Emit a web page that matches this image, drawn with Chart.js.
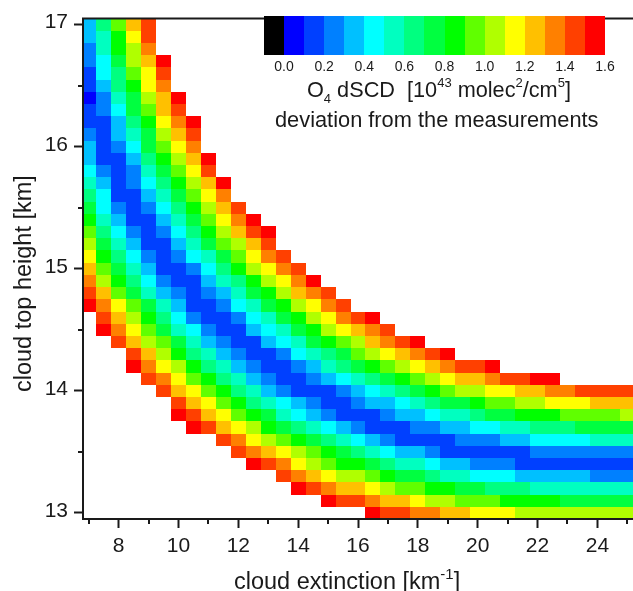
<!DOCTYPE html>
<html>

<head>
    <meta charset="UTF-8">
    <title>O4 dSCD deviation</title>
    <script src="https://cdn.jsdelivr.net/npm/chart.js@4.4.0/dist/chart.umd.min.js"></script>
    <style>
        body { margin: 0; background: #fff; }
        #wrap { position: relative; width: 633px; height: 591px; overflow: hidden; }
        #mapChart { position: absolute; left: 0; top: 0; }
        #barChart { position: absolute; left: 255px; top: 16px; }
    </style>
</head>

<body>
    <div id="wrap">
        <canvas id="mapChart" width="633" height="591"></canvas>
        <canvas id="barChart" width="378" height="60"></canvas>
    </div>

    <script>
        // cloud extinction [km-1], one entry per column
        const extinction = [7, 7.5, 8, 8.5, 9, 9.5, 10, 10.5, 11, 11.5, 12, 12.5, 13, 13.5, 14, 14.5, 15, 15.5, 16,
            16.5, 17, 17.5, 18, 18.5, 19, 19.5, 20, 20.5, 21, 21.5, 22, 22.5, 23, 23.5, 24, 24.5, 25];
        // cloud top height [km], one entry per row, top to bottom
        const heights = [17, 16.9, 16.8, 16.7, 16.6, 16.5, 16.4, 16.3, 16.2, 16.1, 16, 15.9, 15.8, 15.7, 15.6, 15.5,
            15.4, 15.3, 15.2, 15.1, 15, 14.9, 14.8, 14.7, 14.6, 14.5, 14.4, 14.3, 14.2, 14.1, 14, 13.9, 13.8, 13.7,
            13.6, 13.5, 13.4, 13.3, 13.2, 13.1, 13];
        // first filled column of each row (index in extinction)
        const rowStart = [0, 0, 0, 0, 0, 0, 0, 0, 0, 0, 0, 0, 0, 0, 0, 0, 0, 0, 0, 0, 0, 0, 0, 0,
            1, 1, 2, 3, 3, 4, 5, 6, 6, 7, 9, 10, 11, 13, 14, 16, 19];

        const h170 = [.35, .65, .95, 1.25, 1.45];
        const h169 = [.35, .55, .85, 1.15, 1.45];
        const h168 = [.25, .55, .85, 1.05, 1.35];
        const h167 = [.25, .45, .75, 1.05, 1.25, 1.55];
        const h166 = [.15, .45, .65, .95, 1.15, 1.45];
        const h165 = [.15, .35, .65, .85, 1.15, 1.35];
        const h164 = [.05, .25, .55, .75, 1.05, 1.25, 1.55];
        const h163 = [.15, .25, .45, .75, .95, 1.25, 1.45];
        const h162 = [.15, .15, .35, .65, .85, 1.15, 1.35, 1.55];
        const h161 = [.25, .15, .35, .55, .75, 1.05, 1.25, 1.45];
        const h160 = [.35, .15, .25, .45, .75, .95, 1.15, 1.35];
        const h159 = [.35, .15, .15, .35, .65, .85, 1.05, 1.25, 1.55];
        const h158 = [.45, .25, .15, .25, .55, .75, .95, 1.15, 1.45];
        const h157 = [.55, .35, .15, .25, .45, .65, .85, 1.05, 1.25, 1.55];
        const h156 = [.65, .45, .15, .15, .35, .55, .75, .95, 1.15, 1.35];
        const h155 = [.75, .45, .25, .15, .25, .45, .65, .85, 1.05, 1.25, 1.45];
        const h154 = [.85, .55, .35, .15, .15, .35, .55, .75, .95, 1.15, 1.35, 1.55];
        const h153 = [.95, .65, .45, .25, .15, .25, .45, .65, .85, 1.05, 1.25, 1.45, 1.55];
        const h152 = [1.05, .75, .55, .35, .15, .15, .35, .55, .75, .95, 1.05, 1.25, 1.45];
        const h151 = [1.15, .85, .65, .45, .25, .15, .25, .45, .55, .75, .95, 1.15, 1.35, 1.45];
        const h150 = [1.25, .95, .75, .55, .35, .15, .15, .25, .45, .65, .85, 1.05, 1.15, 1.35, 1.45];
        const h149 = [1.35, 1.05, .85, .65, .45, .25, .15, .15, .35, .55, .65, .85, 1.05, 1.15, 1.35, 1.55];
        const h148 = [1.45, 1.25, .95, .75, .55, .35, .25, .15, .25, .35, .55, .75, .85, 1.05, 1.25, 1.35, 1.45];
        const h147 = [1.55, 1.35, 1.15, .95, .75, .55, .35, .15, .15, .25, .45, .55, .75, .85, 1.05, 1.15, 1.35, 1.45];
        const h146 = [1.45, 1.25, 1.05, .85, .65, .45, .25, .15, .15, .25, .45, .55, .75, .85, 1.05, 1.15, 1.35, 1.45, 1.55];
        const h145 = [1.55, 1.35, 1.15, .95, .75, .55, .45, .25, .15, .15, .35, .45, .55, .75, .85, 1.05, 1.15, 1.25, 1.35, 1.45];
        const h144 = [1.45, 1.25, 1.05, .95, .75, .55, .35, .25, .15, .15, .35, .45, .55, .75, .85, .95, 1.05, 1.25, 1.35, 1.45, 1.55];
        const h143 = [1.45, 1.25, 1.05, .85, .65, .55, .35, .25, .15, .15, .25, .45, .55, .65, .75, .95, 1.05, 1.15, 1.25, 1.35, 1.45, 1.55];
        const h142 = [1.55, 1.35, 1.15, 1.05, .85, .65, .55, .35, .25, .15, .15, .25, .35, .55, .65, .75, .85, .95, 1.05, 1.15, 1.25, 1.35, 1.45, 1.45, 1.55];
        const h141 = [1.45, 1.35, 1.15, .95, .85, .65, .55, .35, .25, .15, .15, .25, .35, .45, .55, .65, .75, .85, .95, 1.05, 1.15, 1.25, 1.25, 1.35, 1.45, 1.45, 1.55, 1.55];
        const h140 = [1.45, 1.25, 1.15, .95, .85, .65, .55, .35, .25, .15, .15, .15, .25, .35, .45, .55, .65, .75, .85, .95, 1.05, 1.05, 1.15, 1.15, 1.25, 1.25, 1.35, 1.35, 1.45, 1.45, 1.45, 1.45];
        const h139 = [1.45, 1.25, 1.15, .95, .85, .65, .55, .45, .35, .25, .15, .15, .25, .35, .35, .45, .55, .65, .75, .75, .85, .95, .95, 1.05, 1.05, 1.15, 1.15, 1.15, 1.25, 1.25, 1.25];
        const h138 = [1.55, 1.45, 1.25, 1.15, .95, .85, .75, .55, .45, .35, .25, .15, .15, .15, .25, .35, .35, .45, .55, .55, .65, .75, .75, .85, .85, .85, .95, .95, .95, .95, 1.05];
        const h137 = [1.55, 1.45, 1.25, 1.15, 1.05, .85, .75, .65, .55, .45, .35, .25, .15, .15, .15, .25, .25, .35, .35, .45, .45, .55, .55, .65, .65, .65, .75, .75, .75, .75];
        const h136 = [1.45, 1.35, 1.15, 1.05, .95, .85, .75, .65, .55, .45, .35, .25, .15, .15, .15, .15, .25, .25, .25, .35, .35, .45, .45, .45, .45, .55, .55, .55];
        const h135 = [1.45, 1.35, 1.25, 1.15, 1.05, .95, .85, .75, .65, .55, .45, .35, .35, .25, .15, .15, .15, .15, .15, .15, .25, .25, .25, .25, .25, .25, .25];
        const h134 = [1.55, 1.45, 1.35, 1.15, 1.05, .95, .85, .85, .75, .65, .55, .55, .45, .35, .35, .25, .25, .25, .15, .15, .15, .15, .15, .15, .15, .15];
        const h133 = [1.45, 1.35, 1.25, 1.15, 1.05, 1.05, .95, .85, .75, .75, .65, .55, .55, .45, .45, .45, .35, .35, .35, .35, .35, .25, .25, .25];
        const h132 = [1.55, 1.45, 1.35, 1.25, 1.25, 1.15, 1.05, .95, .95, .85, .85, .75, .75, .65, .65, .65, .55, .55, .55, .55, .55, .55, .55];
        const h131 = [1.55, 1.45, 1.45, 1.35, 1.25, 1.25, 1.15, 1.05, 1.05, .95, .95, .95, .85, .85, .85, .85, .75, .75, .75, .75, .75];
        const h130 = [1.55, 1.45, 1.45, 1.35, 1.35, 1.25, 1.25, 1.15, 1.15, 1.15, 1.05, 1.05, 1.05, 1.05, 1.05, 1.05, 1.05, 1.05];
        const rows = [h170, h169, h168, h167, h166, h165, h164, h163, h162, h161, h160, h159, h158, h157, h156, h155,
            h154, h153, h152, h151, h150, h149, h148, h147, h146, h145, h144, h143, h142, h141, h140, h139, h138,
            h137, h136, h135, h134, h133, h132, h131, h130];

        // colour scale: one colour per 0.1 bin from 0.0 to 1.6, black below zero
        const binColors = ['#0000ff', '#0040ff', '#0080ff', '#00c0ff', '#00ffff', '#00ffc0', '#00ff80', '#00ff40',
            '#00ff00', '#60ff00', '#b0ff00', '#ffff00', '#ffc000', '#ff8000', '#ff4000', '#ff0000'];
        const barCenters = [-.05, .05, .15, .25, .35, .45, .55, .65, .75, .85, .95, 1.05, 1.15, 1.25, 1.35, 1.45, 1.55];
        const barTicks = [0, .2, .4, .6, .8, 1, 1.2, 1.4, 1.6];

        const xMajorTicks = [8, 10, 12, 14, 16, 18, 20, 22, 24];
        const xMinorTicks = [7, 9, 11, 13, 15, 17, 19, 21, 23, 25];
        const yMajorTicks = [13, 14, 15, 16, 17];
        const yMinorTicks = [13.5, 14.5, 15.5, 16.5];

        const axisColor = '#1a1a1a';
        const fontName = '"Liberation Sans", Arial, sans-serif';

        function colorFor(v) {
            return v < 0 ? '#000000' : binColors[Math.min(15, Math.floor(v * 10))];
        }

        // no matrix controller in plain Chart.js, so the cells are drawn from the dataset points here
        const cellPlugin = {
            id: 'cells',
            beforeDatasetsDraw(chart, args, opts) {
                const { ctx, chartArea: area, scales: { x, y } } = chart;
                ctx.save();
                ctx.beginPath();
                ctx.rect(area.left, area.top, area.right - area.left, area.bottom - area.top);
                ctx.clip();
                chart.data.datasets[0].data.forEach(p => {
                    const x0 = Math.round(x.getPixelForValue(p.x - opts.dx));
                    const x1 = Math.round(x.getPixelForValue(p.x + opts.dx));
                    const y0 = Math.round(y.getPixelForValue(p.y + opts.dy));
                    const y1 = Math.round(y.getPixelForValue(p.y - opts.dy));
                    ctx.fillStyle = colorFor(p.v);
                    ctx.fillRect(x0, y0, x1 - x0, y1 - y0);
                });
                ctx.restore();
            }
        };

        // text with sub/superscripts, runs are [text, size, baseline shift]
        function drawRuns(ctx, x, y, runs) {
            ctx.textAlign = 'left';
            ctx.textBaseline = 'alphabetic';
            runs.forEach(([text, size, shift]) => {
                ctx.font = size + 'px ' + fontName;
                ctx.fillText(text, x, y + shift);
                x += ctx.measureText(text).width;
            });
        }

        const framePlugin = {
            id: 'frame',
            afterDraw(chart) {
                const { ctx, chartArea: area, scales: { x, y } } = chart;
                ctx.save();
                ctx.strokeStyle = axisColor;
                ctx.lineWidth = 2;
                ctx.beginPath();
                xMinorTicks.forEach(v => {
                    const px = Math.round(x.getPixelForValue(v));
                    ctx.moveTo(px, area.bottom);
                    ctx.lineTo(px, area.bottom + 5);
                });
                yMinorTicks.forEach(v => {
                    const py = Math.round(y.getPixelForValue(v));
                    ctx.moveTo(area.left, py);
                    ctx.lineTo(area.left - 5, py);
                });
                ctx.moveTo(area.left - 1, area.top);
                ctx.lineTo(area.right, area.top);
                ctx.stroke();

                ctx.fillStyle = axisColor;
                drawRuns(ctx, 234, 589, [['cloud extinction [km', 23.5, 0], ['-1', 15, -10], [']', 23.5, 0]]);
                drawRuns(ctx, 307, 97, [['O', 21.7, 0], ['4', 13, 6], [' dSCD  [10', 21.7, 0], ['43', 13, -10],
                    [' molec', 21.7, 0], ['2', 13, -10], ['/cm', 21.7, 0], ['5', 13, -10], [']', 21.7, 0]]);
                drawRuns(ctx, 275, 127, [['deviation from the measurements', 21.8, 0]]);

                ctx.translate(31, 392);
                ctx.rotate(-Math.PI / 2);
                drawRuns(ctx, 0, 0, [['cloud top height [km]', 23.5, 0]]);
                ctx.restore();
            }
        };

        const mapPoints = [];
        rows.forEach((row, r) => {
            row.forEach((v, i) => {
                mapPoints.push({ x: extinction[rowStart[r] + i], y: heights[r], v: v });
            });
        });

        new Chart(document.getElementById('mapChart').getContext('2d'), {
            type: 'scatter',
            data: { datasets: [{ label: 'deviation', data: mapPoints, pointRadius: 0 }] },
            plugins: [cellPlugin, framePlugin],
            options: {
                responsive: false,
                animation: false,
                events: [],
                layout: { autoPadding: false },
                plugins: { legend: { display: false }, tooltip: { enabled: false }, cells: { dx: .25, dy: .05 } },
                scales: {
                    x: {
                        type: 'linear',
                        min: 6.81,
                        max: 25.19,
                        afterFit(s) { s.height = 72; },
                        afterBuildTicks(s) { s.ticks = xMajorTicks.map(v => ({ value: v })); },
                        grid: { drawOnChartArea: false, tickLength: 9, tickWidth: 2, tickColor: axisColor },
                        border: { color: axisColor, width: 2, z: 1 },
                        ticks: {
                            color: axisColor, padding: 6, maxRotation: 0, autoSkip: false,
                            font: { family: fontName, size: 21 }
                        }
                    },
                    y: {
                        type: 'linear',
                        min: 12.95,
                        max: 17.05,
                        afterFit(s) { s.width = 83; },
                        afterBuildTicks(s) { s.ticks = yMajorTicks.map(v => ({ value: v })); },
                        grid: { drawOnChartArea: false, tickLength: 9, tickWidth: 2, tickColor: axisColor },
                        border: { color: axisColor, width: 2, z: 1 },
                        ticks: {
                            color: axisColor, padding: 6, autoSkip: false, labelOffset: -2,
                            font: { family: fontName, size: 21 }
                        }
                    }
                }
            }
        });

        new Chart(document.getElementById('barChart').getContext('2d'), {
            type: 'scatter',
            data: {
                datasets: [{
                    label: 'colour scale',
                    data: barCenters.map(c => ({ x: c, y: .5, v: c })),
                    pointRadius: 0
                }]
            },
            plugins: [cellPlugin],
            options: {
                responsive: false,
                animation: false,
                events: [],
                layout: { autoPadding: false, padding: { left: 9, right: 28 } },
                plugins: { legend: { display: false }, tooltip: { enabled: false }, cells: { dx: .05, dy: .5 } },
                scales: {
                    x: {
                        type: 'linear',
                        min: -.1,
                        max: 1.6,
                        afterFit(s) { s.height = 21; },
                        afterBuildTicks(s) { s.ticks = barTicks.map(v => ({ value: v })); },
                        grid: { display: false, drawTicks: false },
                        border: { display: false },
                        ticks: {
                            color: axisColor, padding: 4, maxRotation: 0, autoSkip: false,
                            callback: v => v.toFixed(1),
                            font: { family: fontName, size: 14 }
                        }
                    },
                    y: { type: 'linear', min: 0, max: 1, display: false }
                }
            }
        });
    </script>
</body>

</html>
